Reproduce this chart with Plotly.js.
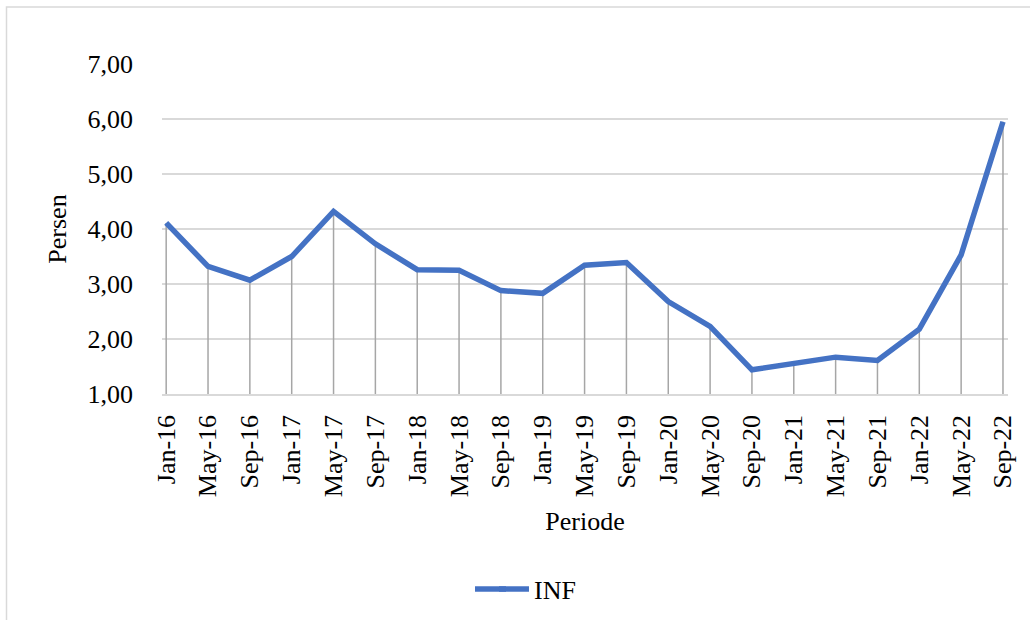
<!DOCTYPE html>
<html>
<head>
<meta charset="utf-8">
<script src="https://cdn.plot.ly/plotly-3.0.1.min.js"></script>
<style>html,body{margin:0;padding:0;background:#fff;}#chart{width:1030px;height:620px;}</style>
</head>
<body>
<div id="chart"></div>
<script>
const periods = ["Jan-16","May-16","Sep-16","Jan-17","May-17","Sep-17","Jan-18","May-18","Sep-18","Jan-19","May-19","Sep-19","Jan-20","May-20","Sep-20","Jan-21","May-21","Sep-21","Jan-22","May-22","Sep-22"];
const inf = [4.11,3.32,3.07,3.50,4.32,3.73,3.26,3.25,2.88,2.83,3.34,3.39,2.68,2.23,1.44,1.55,1.67,1.61,2.18,3.53,5.95];
const yTicks = [1,2,3,4,5,6,7];
const yBase = 1;

const font = "Liberation Serif, Times New Roman, serif";
const fs = 26;

const dropTrace = {
  x: periods, y: inf, type: "scatter", mode: "markers",
  marker: {size: 1, opacity: 0},
  error_y: {type: "data", symmetric: false, array: inf.map(() => 0), arrayminus: inf.map(v => v - yBase),
            color: "#a6a6a6", thickness: 1.5, width: 0},
  showlegend: false, hoverinfo: "skip"
};
const lineTrace = {
  x: periods, y: inf, type: "scatter", mode: "lines", name: "INF",
  line: {color: "#4472C4", width: 5.5}
};

const layout = {
  width: 1030, height: 620,
  margin: {l: 162, r: 22, t: 64, b: 226},
  paper_bgcolor: "#ffffff", plot_bgcolor: "#ffffff",
  font: {family: font, size: fs, color: "#000000"},
  separators: ",.",
  xaxis: {
    type: "category", range: [-0.1, 20.12],
    tickangle: -90, tickfont: {family: font, size: fs, color: "#000"},
    showgrid: false, showline: true, linecolor: "#d9d9d9", linewidth: 1.5,
    ticks: "", ticklabelstandoff: 9,
    title: {text: "Periode", font: {family: font, size: fs, color: "#000"}, standoff: 15},
    automargin: false, fixedrange: true
  },
  yaxis: {
    range: [1, 7], tickvals: yTicks, tickformat: ".2f",
    tickfont: {family: font, size: fs, color: "#000"},
    showgrid: true, gridcolor: "#d9d9d9", gridwidth: 1.5,
    zeroline: false, showline: false, ticks: "", ticklabelstandoff: 28,
    title: {text: "Persen", font: {family: font, size: fs, color: "#000"}, standoff: 13},
    automargin: false, fixedrange: true
  },
  showlegend: true,
  legend: {orientation: "h", xref: "container", yref: "container", x: 0.4796, y: 0.05,
           xanchor: "left", yanchor: "middle", font: {family: font, size: fs, color: "#000"},
           bgcolor: "rgba(0,0,0,0)"},
  shapes: [
    {type: "rect", xref: "paper", yref: "paper",
     x0: (6.5 - 162) / 846, x1: 1.1, y0: -0.8, y1: (394 - 7) / 330,
     line: {color: "#d9d9d9", width: 1.5}, fillcolor: "rgba(0,0,0,0)", layer: "below"},
    {type: "line", xref: "paper", yref: "paper",
     x0: (475 - 162) / 846, x1: (506 - 162) / 846, y0: (394 - 589) / 330, y1: (394 - 589) / 330,
     line: {color: "#4472C4", width: 5.5}}
  ]
};

Plotly.newPlot("chart", [dropTrace, lineTrace], layout, {displayModeBar: false, staticPlot: true});
</script>
</body>
</html>
